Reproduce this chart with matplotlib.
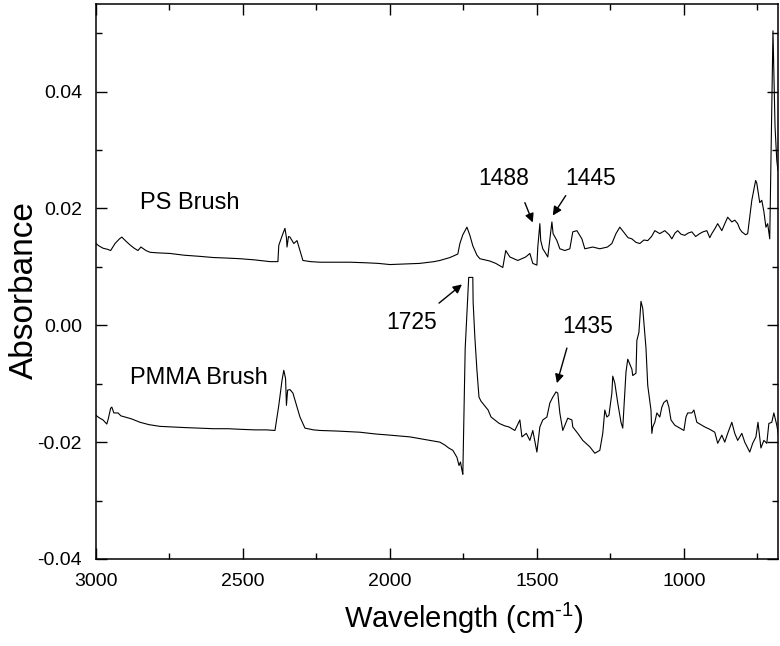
import matplotlib
matplotlib.use("Agg")
import matplotlib.pyplot as plt
from matplotlib.ticker import MultipleLocator

plt.rcParams['font.family'] = ['Liberation Sans', 'DejaVu Sans']
plt.rcParams['mathtext.fontset'] = 'custom'
plt.rcParams['mathtext.rm'] = 'Liberation Sans'

# ---- PS brush spectrum ----
ps_x = [3000, 2990, 2976, 2960, 2950, 2935, 2920, 2912, 2900, 2885, 2870, 2857, 2847, 2830,
        2816, 2790, 2748, 2700, 2646, 2600, 2550, 2510, 2460, 2408, 2381, 2378, 2364, 2357,
        2352, 2350, 2345, 2340, 2327, 2316, 2306, 2296, 2270, 2238, 2190, 2136, 2080, 2040,
        2000, 1950, 1898, 1850, 1830, 1796, 1769, 1762, 1752, 1738, 1728, 1718, 1704, 1694,
        1660, 1640, 1616, 1606, 1592, 1565, 1538, 1524, 1514, 1500, 1497, 1490, 1487, 1480,
        1470, 1463, 1449, 1445, 1432, 1422, 1405, 1388, 1378, 1364, 1347, 1337, 1310, 1286,
        1260, 1245, 1231, 1218, 1201, 1190, 1177, 1163, 1150, 1136, 1123, 1110, 1099, 1082,
        1065, 1050, 1041, 1030, 1021, 1010, 997, 985, 973, 960, 946, 935, 922, 912, 905, 895,
        885, 871, 860, 851, 837, 827, 817, 810, 803, 790, 783, 769, 756, 752, 742, 735, 728,
        721, 715, 708, 697, 690, 684, 680]
ps_y = [0.0140, 0.0136, 0.0132, 0.0130, 0.0128, 0.0140, 0.0148, 0.0151, 0.0145, 0.0138,
        0.0132, 0.0128, 0.0134, 0.0128, 0.0125, 0.0124, 0.0123, 0.0120, 0.0118, 0.0116,
        0.0115, 0.0114, 0.0112, 0.0109, 0.0109, 0.0137, 0.0157, 0.0166, 0.0150, 0.0134,
        0.0152, 0.0151, 0.0140, 0.0145, 0.0128, 0.0111, 0.0109, 0.0108, 0.0108, 0.0108,
        0.0107, 0.0106, 0.0104, 0.0105, 0.0106, 0.0109, 0.0111, 0.0116, 0.0122, 0.0140,
        0.0155, 0.0168, 0.0154, 0.0136, 0.0120, 0.0114, 0.0110, 0.0106, 0.0099, 0.0128,
        0.0117, 0.0111, 0.0117, 0.0123, 0.0106, 0.0103, 0.0134, 0.0174, 0.0145, 0.0131,
        0.0123, 0.0117, 0.0177, 0.0157, 0.0145, 0.0131, 0.0128, 0.0131, 0.0160, 0.0162,
        0.0148, 0.0131, 0.0134, 0.0131, 0.0134, 0.0140, 0.0157, 0.0168, 0.0157, 0.0150,
        0.0148, 0.0142, 0.0140, 0.0146, 0.0145, 0.0152, 0.0162, 0.0157, 0.0162, 0.0155,
        0.0148, 0.0158, 0.0162, 0.0156, 0.0154, 0.0158, 0.0160, 0.0152, 0.0157, 0.0160,
        0.0162, 0.0150, 0.0157, 0.0165, 0.0174, 0.0162, 0.0175, 0.0185, 0.0177, 0.0180,
        0.0174, 0.0165, 0.0160, 0.0155, 0.0157, 0.0214, 0.0248, 0.0243, 0.0210, 0.0214,
        0.0195, 0.0168, 0.0174, 0.0148, 0.0504, 0.0340, 0.0282, 0.0265]

# ---- PMMA brush spectrum ----
pmma_x = [3000, 2990, 2976, 2963, 2958, 2950, 2946, 2939, 2925, 2915, 2901, 2880, 2850, 2820,
          2782, 2740, 2700, 2646, 2600, 2550, 2510, 2460, 2420, 2391, 2378, 2367, 2361, 2355,
          2352, 2348, 2340, 2330, 2316, 2306, 2289, 2260, 2238, 2180, 2102, 2050, 2000, 1932,
          1864, 1830, 1813, 1800, 1786, 1772, 1765, 1760, 1755, 1752, 1744, 1732, 1718, 1717,
          1711, 1704, 1697, 1690, 1677, 1666, 1656, 1643, 1628, 1610, 1595, 1575, 1558, 1551,
          1536, 1524, 1514, 1500, 1490, 1480, 1466, 1456, 1446, 1435, 1429, 1422, 1412, 1395,
          1381, 1378, 1361, 1344, 1320, 1303, 1286, 1276, 1269, 1262, 1255, 1245, 1242, 1235,
          1225, 1214, 1208, 1197, 1191, 1177, 1174, 1163, 1160, 1153, 1146, 1140, 1129, 1123,
          1112, 1109, 1106, 1099, 1092, 1082, 1075, 1068, 1058, 1051, 1044, 1031, 1014, 1000,
          993, 987, 973, 966, 956, 946, 929, 912, 895, 885, 871, 861, 851, 837, 827, 817, 803,
          793, 776, 766, 755, 748, 738, 728, 718, 711, 701, 694, 684, 677]
pmma_y = [-0.0154, -0.0158, -0.0162, -0.0169, -0.0160, -0.0142, -0.0140, -0.0150, -0.0150,
          -0.0155, -0.0157, -0.0160, -0.0166, -0.0170, -0.0173, -0.0174, -0.0175, -0.0176,
          -0.0177, -0.0177, -0.0178, -0.0179, -0.0179, -0.0180, -0.0137, -0.0094, -0.0077,
          -0.0091, -0.0137, -0.0111, -0.0110, -0.0116, -0.0140, -0.0157, -0.0176, -0.0179,
          -0.0180, -0.0181, -0.0183, -0.0186, -0.0188, -0.0191, -0.0197, -0.0200, -0.0205,
          -0.0210, -0.0214, -0.0226, -0.0240, -0.0234, -0.0248, -0.0255, -0.0040, 0.0082,
          0.0082, 0.0040, -0.0021, -0.0077, -0.0123, -0.0130, -0.0138, -0.0145, -0.0157,
          -0.0162, -0.0168, -0.0172, -0.0174, -0.0180, -0.0162, -0.0191, -0.0185, -0.0197,
          -0.0180, -0.0217, -0.0174, -0.0162, -0.0157, -0.0133, -0.0123, -0.0114, -0.0116,
          -0.0150, -0.0180, -0.0159, -0.0162, -0.0174, -0.0185, -0.0197, -0.0208, -0.0219,
          -0.0214, -0.0185, -0.0145, -0.0157, -0.0154, -0.0116, -0.0087, -0.0099, -0.0133,
          -0.0166, -0.0176, -0.0080, -0.0058, -0.0075, -0.0086, -0.0082, -0.0026, -0.0012,
          0.0041, 0.0029, -0.0039, -0.0103, -0.0145, -0.0185, -0.0174, -0.0166, -0.0150,
          -0.0157, -0.0140, -0.0132, -0.0128, -0.0140, -0.0162, -0.0171, -0.0176, -0.0180,
          -0.0157, -0.0150, -0.0150, -0.0145, -0.0166, -0.0169, -0.0174, -0.0178, -0.0183,
          -0.0202, -0.0188, -0.0200, -0.0185, -0.0166, -0.0185, -0.0197, -0.0185, -0.0200,
          -0.0217, -0.0202, -0.0191, -0.0166, -0.0210, -0.0197, -0.0202, -0.0168, -0.0166,
          -0.0150, -0.0171, -0.0191]

series_labels = ["PS Brush", "PMMA Brush"]
peak_labels = ["1488", "1445", "1725", "1435"]

x_ticks = [3000, 2500, 2000, 1500, 1000]
y_ticks = [-0.04, -0.02, 0.00, 0.02, 0.04]

fig = plt.figure(figsize=(7.8, 6.46), dpi=100)
ax = fig.add_axes([0.123, 0.1347, 0.8744, 0.8591])

ax.plot(ps_x, ps_y, color='black', lw=0.8)
ax.plot(pmma_x, pmma_y, color='black', lw=0.8)

ax.set_xlim(3000, 680)
ax.set_ylim(-0.04, 0.055)
ax.set_xticks(x_ticks)
ax.set_xticklabels([str(t) for t in x_ticks])
ax.set_yticks(y_ticks)
ax.set_yticklabels(["%.2f" % t for t in y_ticks])
ax.xaxis.set_minor_locator(MultipleLocator(250))
ax.yaxis.set_minor_locator(MultipleLocator(0.01))
ax.tick_params(which='both', direction='in', top=True, right=True, width=1.0)
ax.tick_params(which='major', length=8, labelsize=14, pad=10)
ax.tick_params(which='minor', length=4.5)
for s in ax.spines.values():
    s.set_linewidth(1.1)

ax.set_ylabel("Absorbance", fontsize=24)
ax.yaxis.set_label_coords(-0.082, 0.485)
ax.set_xlabel(r"Wavelength (cm$^{\text{-1}}$)", fontsize=21)
ax.xaxis.set_label_coords(0.54, -0.075)

# series labels
ax.text(2850, 0.0210, series_labels[0], fontsize=17, ha='left', va='center')
ax.text(2884, -0.0091, series_labels[1], fontsize=17, ha='left', va='center')

# peak labels
ax.text(1612, 0.0251, peak_labels[0], fontsize=16.5, ha='center', va='center')
ax.text(1316, 0.0251, peak_labels[1], fontsize=16.5, ha='center', va='center')
ax.text(1925, 0.0005, peak_labels[2], fontsize=16.5, ha='center', va='center')
ax.text(1327, -0.0002, peak_labels[3], fontsize=16.5, ha='center', va='center')

arrow_kw = dict(arrowstyle='-|>', color='black', lw=1.0, mutation_scale=13,
                shrinkA=0, shrinkB=0)
ax.annotate('', xy=(1514, 0.0176), xytext=(1541, 0.0210), arrowprops=arrow_kw)
ax.annotate('', xy=(1446, 0.0188), xytext=(1402, 0.0222), arrowprops=arrow_kw)
ax.annotate('', xy=(1755, 0.0070), xytext=(1833, 0.0038), arrowprops=arrow_kw)
ax.annotate('', xy=(1432, -0.0099), xytext=(1398, -0.0039), arrowprops=arrow_kw)

fig.savefig("out.png", dpi=100)
